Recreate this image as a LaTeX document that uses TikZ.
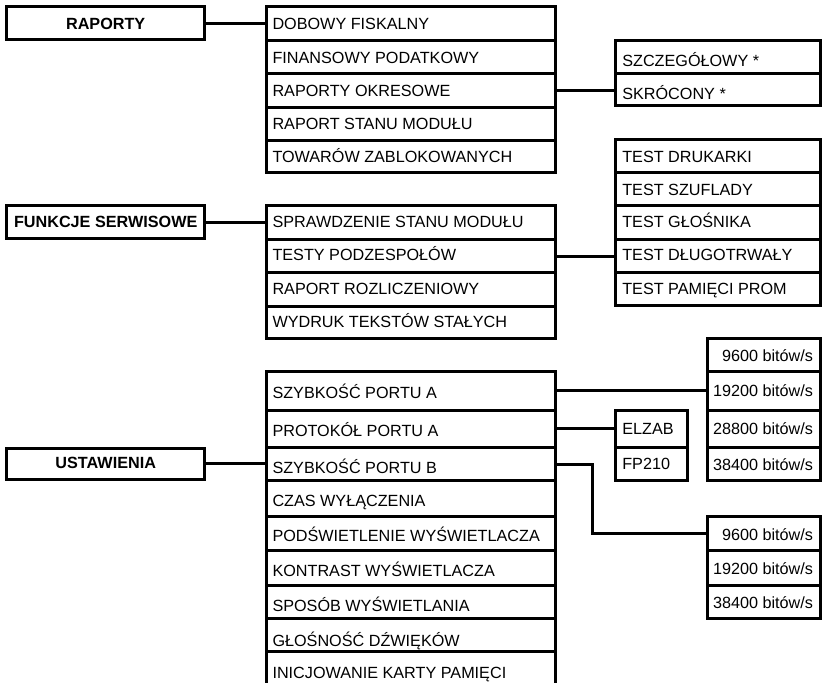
\documentclass[tikz,border=0pt]{standalone}
\usepackage{fontspec}
\setmainfont{Liberation Sans}
% #1 align (l/r/c), #2 inset, #3 name, #4 x left, #5 x right, #6 top, #7 bottom, #8 baseline, #9 text
\newcommand\rowbox[9]{%
  \pgfmathsetmacro\rbw{#5-#4}%
  \pgfmathsetmacro\rbh{#7-#6}%
  \pgfmathsetmacro\rbt{2*#8-#6-#7}%
  \pgfmathsetmacro\rbi{#5-#4-2*#2}%
  \node[cell, inner xsep=#2 bp, minimum width=\rbw bp, minimum height=\rbh bp, text height=\rbt bp]
    (#3) at ({(#4+#5)/2},{(#6+#7)/2}) {\makebox[\rbi bp][#1]{#9}};%
}
\tikzset{
  cell/.style={draw, rectangle, line width=3bp, inner ysep=0pt, text depth=0pt, outer sep=0pt,
    font=\fontsize{16.2bp}{19bp}\selectfont},
  link/.style={line width=3bp}
}
\begin{document}
\begin{tikzpicture}[x=1bp,y=-1bp]
\useasboundingbox (0,0) rectangle (823,683);
\clip (0,0) rectangle (823,683);

% titles
\rowbox{c}{4}{hR}{6.7}{204.7}{6.7}{39.5}{29.3}{\bfseries RAPORTY}
\rowbox{c}{4}{hF}{6.7}{204.7}{205.7}{238.3}{227.3}{\bfseries FUNKCJE SERWISOWE}
\rowbox{c}{4}{hU}{6.7}{204.7}{448}{479.5}{468.3}{\bfseries USTAWIENIA}

% RAPORTY list
\rowbox{l}{6}{r1}{266.5}{555}{7}{40.7}{29.3}{DOBOWY FISKALNY}
\rowbox{l}{6}{r2}{266.5}{555}{40.7}{74}{63.3}{FINANSOWY PODATKOWY}
\rowbox{l}{6}{r3}{266.5}{555}{74}{107.3}{96.7}{RAPORTY OKRESOWE}
\rowbox{l}{6}{r4}{266.5}{555}{107.3}{140.7}{130}{RAPORT STANU MODUŁU}
\rowbox{l}{6}{r5}{266.5}{555}{140.7}{172.7}{162.3}{TOWARÓW ZABLOKOWANYCH}

\rowbox{l}{7}{s1}{615.3}{820.5}{40.7}{74}{66.7}{SZCZEGÓŁOWY *}
\rowbox{l}{7}{s2}{615.3}{820.5}{74}{106}{100}{SKRÓCONY *}

% tests
\rowbox{l}{7}{t1}{615.3}{820.5}{139.3}{172}{162.3}{TEST DRUKARKI}
\rowbox{l}{7}{t2}{615.3}{820.5}{172}{205}{195}{TEST SZUFLADY}
\rowbox{l}{7}{t3}{615.3}{820.5}{205}{239}{227.7}{TEST GŁOŚNIKA}
\rowbox{l}{7}{t4}{615.3}{820.5}{239}{272.3}{260.7}{TEST DŁUGOTRWAŁY}
\rowbox{l}{7}{t5}{615.3}{820.5}{272.3}{305}{294}{TEST PAMIĘCI PROM}

% FUNKCJE SERWISOWE list
\rowbox{l}{6}{f1}{266.5}{555}{205.7}{239.3}{227.3}{SPRAWDZENIE STANU MODUŁU}
\rowbox{l}{6}{f2}{266.5}{555}{239.3}{272.7}{260.7}{TESTY PODZESPOŁÓW}
\rowbox{l}{6}{f3}{266.5}{555}{272.7}{306}{294}{RAPORT ROZLICZENIOWY}
\rowbox{l}{6}{f4}{266.5}{555}{306}{338.3}{327.3}{WYDRUK TEKSTÓW STAŁYCH}

% USTAWIENIA list
\rowbox{l}{6}{u1}{266.5}{555}{371.7}{410}{398.3}{SZYBKOŚĆ PORTU A}
\rowbox{l}{6}{u2}{266.5}{555}{410}{447.3}{436.7}{PROTOKÓŁ PORTU A}
\rowbox{l}{6}{u3}{266.5}{555}{447.3}{480.7}{473.3}{SZYBKOŚĆ PORTU B}
\rowbox{l}{6}{u4}{266.5}{555}{480.7}{516}{506.7}{CZAS WYŁĄCZENIA}
\rowbox{l}{6}{u5}{266.5}{555}{516}{550}{541.7}{PODŚWIETLENIE WYŚWIETLACZA}
\rowbox{l}{6}{u6}{266.5}{555}{550}{585}{576.7}{KONTRAST WYŚWIETLACZA}
\rowbox{l}{6}{u7}{266.5}{555}{585}{618.3}{611.7}{SPOSÓB WYŚWIETLANIA}
\rowbox{l}{6}{u8}{266.5}{555}{618.3}{651.7}{646.7}{GŁOŚNOŚĆ DŹWIĘKÓW}
\rowbox{l}{6}{u9}{266.5}{555}{651.7}{688}{678.8}{INICJOWANIE KARTY PAMIĘCI}

% protocol
\rowbox{l}{7}{e1}{615.3}{687.3}{410}{447.3}{434}{ELZAB}
\rowbox{l}{7}{e2}{615.3}{687.3}{447.3}{480}{469}{FP210}

% baud A
\rowbox{r}{7.5}{a1}{707.3}{820.5}{338.3}{371.7}{361.7}{9600 bitów/s}
\rowbox{r}{7.5}{a2}{707.3}{820.5}{371.7}{410}{396.7}{19200 bitów/s}
\rowbox{r}{7.5}{a3}{707.3}{820.5}{410}{447.3}{434}{28800 bitów/s}
\rowbox{r}{7.5}{a4}{707.3}{820.5}{447.3}{480}{470}{38400 bitów/s}

% baud B
\rowbox{r}{7.5}{b1}{707.3}{820.5}{516}{550}{540}{9600 bitów/s}
\rowbox{r}{7.5}{b2}{707.3}{820.5}{550}{585}{574}{19200 bitów/s}
\rowbox{r}{7.5}{b3}{707.3}{820.5}{585}{618.3}{608.3}{38400 bitów/s}

% connectors
\draw[link] (hR.east) -- (hR.east -| r1.west);
\draw[link] (hF.east) -- (hF.east -| f1.west);
\draw[link] (hU.east) -- (hU.east -| u3.west);
\draw[link] (r3.east) -- (r3.east -| s2.west);
\draw[link] (f2.east) -- (f2.east -| t4.west);
\draw[link] (u1.east) -- (u1.east -| a2.west);
\draw[link] (u2.east) -- (u2.east -| e1.west);
\coordinate (kB) at (592.7,464);
\draw[link] (u3.east) -- (u3.east -| kB) |- (b1.west);
\end{tikzpicture}
\end{document}
